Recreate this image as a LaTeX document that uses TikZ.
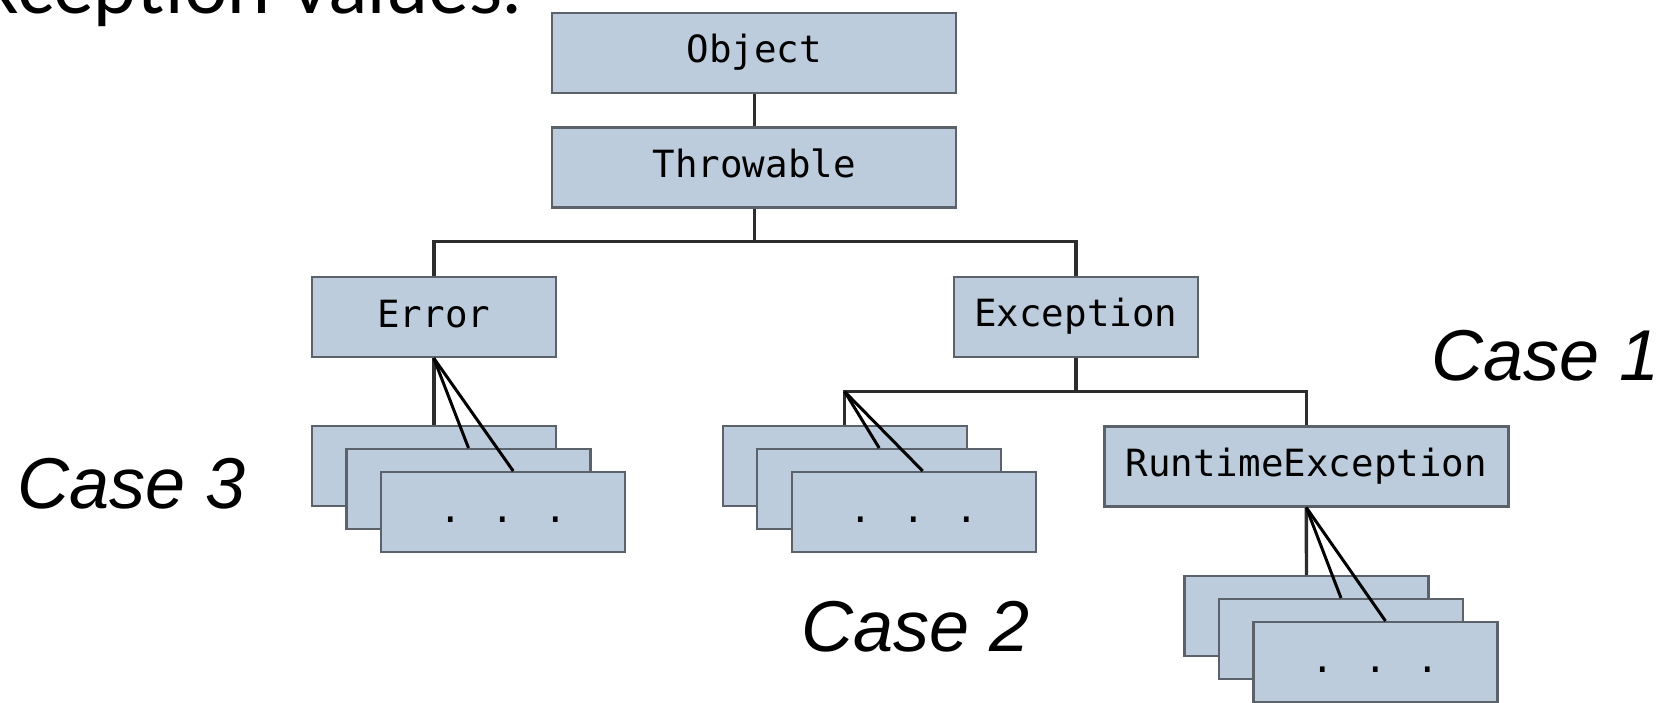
\documentclass[tikz,border=0pt]{standalone}
\usepackage{fontspec}
\setmainfont{Liberation Sans}
\newfontfamily\monofont{DejaVu Sans Mono}
\newfontfamily\headfont{Lato}
\definecolor{boxfill}{RGB}{188,204,220}
\definecolor{boxline}{RGB}{92,98,106}
\definecolor{linkcol}{RGB}{45,45,45}

\begin{document}
\begin{tikzpicture}[x=1pt,y=-1pt,
  cls/.style={draw=boxline, fill=boxfill, line width=2.4pt, inner sep=0pt,
    minimum height=80pt, text height=28pt, text depth=8pt,
    font=\monofont\fontsize{37.5}{40}\selectfont},
  wide/.style={cls, minimum width=404pt},
  narrow/.style={cls, minimum width=244pt},
  link/.style={draw=linkcol, line width=3.4pt},
  fan/.style={draw=black, line width=3pt},
  caselabel/.style={font=\itshape\fontsize{72}{80}\selectfont, inner sep=0pt, anchor=base west}]

\useasboundingbox (0,0) rectangle (1679,702);
\fill[white] (0,0) rectangle (1679,702);

% heading line, running off the top edge
\node[font=\headfont\fontsize{77}{84}\selectfont, anchor=base east, inner sep=0pt] (heading) at (522,13) {Exception values:};

% class hierarchy
\node[wide]   (object)    at (754.2,52.7)   {Object};
\node[wide]   (throwable) at (754.2,167.5)  {Throwable};
\node[narrow] (error)     at (433.8,317)    {Error};
\node[narrow] (exception) at (1075.8,316.8) {Exception};
\node[wide]   (runtime)   at (1306.3,466.3) {RuntimeException};

% stacks of further subclasses
\node[narrow] (errA) at (433.8,466.2) {};
\node[narrow] (errB) at (468.5,489.2) {};
\node[narrow] (errC) at (503.2,512.2) {. . .};

\node[narrow] (excA) at (844.7,466.2) {};
\node[narrow] (excB) at (879.2,489.2) {};
\node[narrow] (excC) at (913.7,512.2) {. . .};

\node[narrow] (rtA) at (1306.5,616.2) {};
\node[narrow] (rtB) at (1341,639.2) {};
\node[narrow] (rtC) at (1375.5,662.2) {. . .};

% tree connectors
\coordinate (j1) at (754.2,241.7);
\coordinate (j2) at (844.7,391.7);
\draw[link] (object.south) -- (throwable.north);
\draw[link] (throwable.south) -- (j1);
\draw[link] (error.north) |- (j1) -| (exception.north);
\draw[link] (exception.south) -- (exception.south |- j2);
\draw[link] (excA.north) -- (j2) -| (runtime.north);

% fans into the stacks
\draw[link] (error.south) -- (errA.north);
\draw[fan] (error.south) -- (errB.north);
\draw[fan] (error.south) -- ([xshift=10pt]errC.north);

\draw[fan] (j2) -- (excB.north);
\draw[fan] (j2) -- ([xshift=9pt]excC.north);

\draw[link] (runtime.south) -- (rtA.north);
\draw[fan] (runtime.south) -- (rtB.north);
\draw[fan] (runtime.south) -- ([xshift=10pt]rtC.north);

% case labels
\node[caselabel] (case1) at (1431,380)   {Case 1};
\node[caselabel] (case3) at (17,508.3)   {Case 3};
\node[caselabel] (case2) at (801,651.7)  {Case 2};
\end{tikzpicture}
\end{document}
